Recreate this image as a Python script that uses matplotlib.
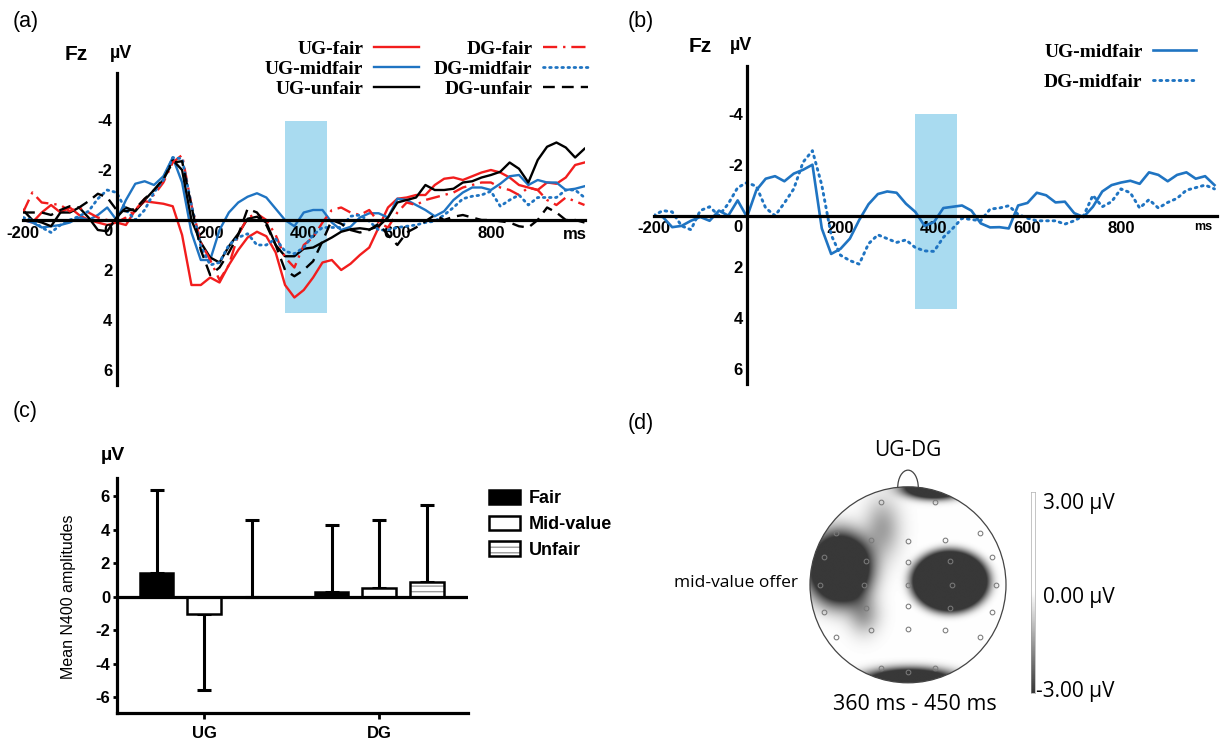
import numpy as np
import matplotlib
matplotlib.use("Agg")
import matplotlib.pyplot as plt
from matplotlib.colors import LinearSegmentedColormap
from matplotlib.patches import Ellipse, Patch, Arc

plt.rcParams["font.family"] = ["Liberation Sans", "DejaVu Sans"]

# ----------------------------
# Data
# ----------------------------
erp_times = np.arange(-200, 1001, 20)   # ms, one value every 20 ms

# panel (a): Fz waveforms (uV, negative up)
a_ug_fair = [0.0, 0.1, -0.3, -0.6, -0.3, -0.5, -0.2, 0.0, 0.1, 0.2,
             0.1, 0.2, -0.4, -0.75, -0.7, -0.65, -0.55, 0.6, 2.6, 2.6,
             2.3, 2.5, 1.8, 1.2, 0.7, 0.47, 0.65, 1.3, 2.6, 3.1,
             2.8, 2.3, 1.7, 1.6, 2.0, 1.75, 1.4, 1.1, 0.3, -0.5,
             -0.85, -0.9, -1.0, -1.0, -1.4, -1.65, -1.7, -1.6, -1.75, -1.9,
             -2.0, -1.9, -1.7, -1.4, -1.3, -1.2, -1.5, -1.45, -1.7, -2.2,
             -2.3]
a_ug_midfair = [0.0, 0.1, 0.3, 0.25, 0.2, 0.1, -0.1, 0.0, -0.2, -0.5,
                0.0, -0.8, -1.45, -1.55, -1.4, -1.75, -2.5, -1.5, 0.5, 1.6,
                1.6, 0.4, -0.3, -0.7, -0.93, -1.07, -0.9, -0.45, 0.0, 0.25,
                -0.3, -0.4, -0.4, 0.1, 0.4, 0.27, -0.1, -0.27, -0.27, -0.1,
                -0.85, -0.8, -0.6, -0.4, -0.15, -0.35, -0.8, -1.1, -1.3, -1.3,
                -1.2, -1.45, -1.75, -1.8, -1.4, -1.6, -1.5, -1.5, -1.2, -1.25,
                -1.35]
a_ug_unfair = [-0.4, 0.0, 0.1, 0.25, -0.3, -0.3, -0.5, -0.1, 0.4, 0.45,
               -0.1, -0.5, -0.35, -0.8, -1.2, -1.6, -2.4, -2.0, 0.0, 0.9,
               1.5, 1.7, 1.05, 0.55, -0.05, -0.13, 0.1, 1.0, 1.45, 1.45,
               1.15, 1.1, 0.9, 0.7, 0.47, 0.37, 0.33, 0.38, 0.25, -0.1,
               -0.7, -0.8, -0.9, -1.4, -1.2, -1.2, -1.25, -1.5, -1.55, -1.7,
               -1.8, -1.93, -2.3, -2.05, -1.5, -2.4, -2.93, -3.1, -2.9, -2.5,
               -2.85]
a_dg_fair = [-0.3, -1.1, -0.7, -0.65, -0.6, -0.35, -0.5, -0.3, -0.1, 0.0,
             0.1, -0.1, -0.4, -0.85, -1.0, -1.5, -2.3, -2.6, -0.6, 0.9,
             1.6, 2.4, 1.8, 0.6, -0.1, -0.25, 0.0, 0.6, 1.5, 1.9,
             1.0, 0.7, 0.1, -0.4, -0.5, -0.3, -0.2, -0.4, 0.1, 0.3,
             -0.3, -0.7, -0.6, -0.8, -0.9, -1.0, -1.1, -1.3, -1.4, -1.5,
             -1.5, -1.3, -1.2, -1.0, -1.3, -1.2, -0.8, -0.6, -0.9, -0.75,
             -0.6]
a_dg_midfair = [-0.1, 0.0, 0.3, 0.5, 0.2, 0.0, -0.15, -0.35, -0.85, -1.2,
                -1.1, -0.4, 0.0, -0.4, -1.1, -1.6, -2.5, -2.45, -0.6, 1.05,
                1.8, 1.7, 1.0, 0.7, 0.55, 1.0, 1.0, 0.75, 1.25, 1.35,
                1.1, 0.6, 0.3, 0.3, 0.3, -0.15, -0.2, 0.05, 0.4, 0.4,
                0.3, 0.25, 0.2, 0.1, 0.05, -0.2, -0.5, -0.85, -0.95, -1.0,
                -1.15, -0.55, -0.8, -1.0, -0.6, -0.9, -0.9, -0.9, -1.2, -1.2,
                -0.9]
a_dg_unfair = [-0.3, -0.3, -0.3, -0.2, -0.4, -0.55, -0.5, -0.75, -1.05, -0.9,
               -0.4, -0.35, -0.45, -0.85, -1.2, -1.65, -2.3, -2.35, -0.55, 1.2,
               2.2, 1.9, 1.3, 0.6, -0.45, -0.3, 0.2, 1.0, 2.0, 2.25,
               2.0, 1.65, 0.85, 0.0, 0.15, 0.4, 0.5, 0.4, 0.15, 0.6,
               1.0, 0.5, 0.3, 0.05, -0.2, 0.0, -0.13, -0.2, -0.1, 0.0,
               0.0, 0.05, 0.1, 0.25, 0.3, 0.0, -0.5, -0.3, 0.0, 0.0,
               0.1]

# panel (b): midfair offers only
b_ug_midfair = [0.0, 0.05, 0.45, 0.4, 0.2, 0.05, 0.2, -0.2, 0.0, -0.6,
                0.05, -1.0, -1.45, -1.55, -1.35, -1.65, -1.8, -2.0, 0.5, 1.5,
                1.3, 0.9, 0.17, -0.45, -0.85, -0.95, -0.9, -0.47, -0.15, 0.4,
                0.25, -0.3, -0.35, -0.4, -0.2, 0.3, 0.46, 0.45, 0.5, -0.4,
                -0.5, -0.9, -0.8, -0.52, -0.55, -0.1, 0.05, -0.35, -0.95, -1.2,
                -1.3, -1.37, -1.25, -1.7, -1.6, -1.35, -1.6, -1.7, -1.45, -1.55,
                -1.2]
b_dg_midfair = [0.0, -0.2, -0.15, 0.4, 0.55, -0.2, -0.35, 0.0, -0.47, -1.1,
                -1.3, -1.15, -0.3, 0.0, -0.5, -1.05, -2.1, -2.55, -1.2, 0.75,
                1.55, 1.76, 1.9, 1.1, 0.75, 0.9, 1.05, 0.95, 1.25, 1.38,
                1.4, 0.85, 0.5, 0.1, 0.15, 0.2, -0.26, -0.3, -0.39, -0.05,
                0.1, 0.2, 0.2, 0.2, 0.33, 0.2, 0.0, -0.8, -0.35, -0.55,
                -1.05, -0.9, -0.3, -0.63, -0.3, -0.52, -0.68, -1.0, -1.1, -1.2,
                -1.05]

n400_window = (360, 450)

# panel (c): mean N400 amplitudes with one-sided SD
games = ["UG", "DG"]
offer_types = ["Fair", "Mid-value", "Unfair"]
n400_mean = {"Fair": [1.4, 0.3], "Mid-value": [-1.02, 0.53], "Unfair": [0.0, 0.86]}
n400_sd = {"Fair": [5.0, 4.0], "Mid-value": [4.56, 4.05], "Unfair": [4.58, 4.6]}

# panel (d): UG-DG difference map, dark areas (uV) on a unit head
elec_x = [-0.28, 0.28,
          -0.73, -0.38, 0.0, 0.38, 0.73,
          -0.86, -0.43, 0.0, 0.43, 0.86,
          -0.9, -0.45, 0.0, 0.45, 0.9,
          -0.86, -0.43, 0.0, 0.43, 0.86,
          -0.73, -0.38, 0.0, 0.38, 0.73,
          -0.28, 0.0, 0.28]
elec_y = [0.85, 0.85,
          0.53, 0.46, 0.45, 0.46, 0.53,
          0.28, 0.24, 0.23, 0.24, 0.28,
          0.0, 0.0, 0.0, 0.0, 0.0,
          -0.28, -0.24, -0.22, -0.24, -0.28,
          -0.53, -0.46, -0.45, -0.46, -0.53,
          -0.85, -0.89, -0.85]
blob_x = [-0.70, 0.43, 0.27, 0.02, -0.26, -0.45]
blob_y = [0.17, 0.04, 1.0, -1.0, 0.58, -0.30]
blob_wx = [0.33, 0.40, 0.33, 0.50, 0.18, 0.16]
blob_wy = [0.37, 0.32, 0.12, 0.15, 0.30, 0.20]
blob_amp = [-6.0, -6.0, -6.0, -6.0, -1.4, -1.4]
blob_pow = [3, 6, 3, 3, 2, 2]

# ----------------------------
# Layout helpers (pixel boxes)
# ----------------------------
W, H = 1228, 742


def px_box(left, top, right, bottom):
    return [left / W, 1 - bottom / H, (right - left) / W, (bottom - top) / H]


def fxy(x, y):
    return x / W, 1 - y / H


RED = "#f21d1d"
BLUE = "#1f74c2"
SHADE = "#a9dbf0"
TICKFONT = dict(fontsize=12, fontweight="bold", family="Liberation Sans")
TOPOFONT = ["Open Sans", "DejaVu Sans"]


def erp_axes(fig, rect, xlim, ylim):
    ax = fig.add_axes(rect)
    ax.set_xlim(*xlim)
    ax.set_ylim(*ylim)
    ax.patch.set_alpha(0)
    for s in ("top", "right"):
        ax.spines[s].set_visible(False)
    for s in ("left", "bottom"):
        ax.spines[s].set_position(("data", 0))
        ax.spines[s].set_linewidth(2.3)
        ax.spines[s].set_zorder(3)
    ax.set_xticks([-200, 200, 400, 600, 800])
    ax.set_xticklabels(["-200", "200", "400", "600", "800"], **TICKFONT)
    ax.set_yticks([-4, -2, 2, 4, 6])
    ax.set_yticklabels(["-4", "-2", "2", "4", "6"], **TICKFONT)
    ax.tick_params(axis="x", length=0, pad=4)
    ax.tick_params(axis="y", length=0, pad=3)
    ax.annotate("0", xy=(0, 0), xytext=(-3, -3), textcoords="offset points",
                ha="right", va="top", **TICKFONT)
    return ax


fig = plt.figure(figsize=(W / 100, H / 100), dpi=100)

# ---- Panel (a) ----
ax_a = erp_axes(fig, px_box(23, 73, 584.5, 385), (-200, 1000), (6.6, -5.88))
ax_a.fill_between(n400_window, -3.95, 3.7, color=SHADE, lw=0, zorder=0)
lw = 1.7
ax_a.plot(erp_times, a_ug_fair, color=RED, lw=lw, label="UG-fair")
ax_a.plot(erp_times, a_ug_midfair, color=BLUE, lw=lw, label="UG-midfair")
ax_a.plot(erp_times, a_ug_unfair, color="black", lw=lw, label="UG-unfair")
ax_a.plot(erp_times, a_dg_fair, color=RED, lw=lw, ls=(0, (6, 2.5, 1, 2.5)), label="DG-fair")
ax_a.plot(erp_times, a_dg_midfair, color=BLUE, lw=lw + 0.3, ls=(0, (0.6, 1.6)),
          dash_capstyle="round", label="DG-midfair")
ax_a.plot(erp_times, a_dg_unfair, color="black", lw=lw, ls=(0, (5, 3)), label="DG-unfair")
ax_a.annotate("ms", xy=(980, 0), xytext=(0, -5), textcoords="offset points",
              ha="center", va="top", **TICKFONT)
ax_a.legend(ncol=2, markerfirst=False, frameon=False, loc="upper right",
            bbox_to_anchor=fxy(588, 40), bbox_transform=fig.transFigure,
            prop=dict(family="Liberation Serif", weight="bold", size=14),
            handlelength=2.3, handletextpad=0.55, columnspacing=0.8,
            labelspacing=0.13, borderpad=0, borderaxespad=0)
fig.text(*fxy(76, 55), "Fz", fontsize=15, fontweight="bold", ha="center", va="center")
fig.text(*fxy(121, 54), "µV", fontsize=13, fontweight="bold", ha="center", va="center")

# ---- Panel (b) ----
ax_b = erp_axes(fig, px_box(653.5, 66, 1216.8, 384), (-200, 1005), (6.6, -5.87))
ax_b.fill_between(n400_window, -4.0, 3.66, color=SHADE, lw=0, zorder=0)
ax_b.plot(erp_times, b_ug_midfair, color=BLUE, lw=lw + 0.2, label="UG-midfair")
ax_b.plot(erp_times, b_dg_midfair, color=BLUE, lw=lw + 0.4, ls=(0, (0.6, 1.6)),
          dash_capstyle="round", label="DG-midfair")
ax_b.annotate("ms", xy=(975, 0), xytext=(0, -4), textcoords="offset points",
              ha="center", va="top", fontsize=9, fontweight="bold")
ax_b.legend(markerfirst=False, frameon=False, loc="upper right",
            bbox_to_anchor=fxy(1196, 43), bbox_transform=fig.transFigure,
            prop=dict(family="Liberation Serif", weight="bold", size=14),
            handlelength=2.2, handletextpad=0.55, labelspacing=0.65,
            borderpad=0, borderaxespad=0)
fig.text(*fxy(700, 47), "Fz", fontsize=15, fontweight="bold", ha="center", va="center")
fig.text(*fxy(741, 46), "µV", fontsize=13, fontweight="bold", ha="center", va="center")

# ---- Panel (c) ----
ax_c = fig.add_axes(px_box(117, 478, 468, 713))
ax_c.set_xlim(-0.497, 1.509)
ax_c.set_ylim(-6.96, 7.1)
for s in ("top", "right"):
    ax_c.spines[s].set_visible(False)
for s in ("left", "bottom"):
    ax_c.spines[s].set_linewidth(2.3)
ax_c.axhline(0, color="black", lw=2.3, zorder=4)
xpos = np.arange(len(games))
offsets = [-0.27, 0.0, 0.275]
bw = 0.19
for off, kind in zip(offsets, offer_types):
    means = np.array(n400_mean[kind])
    sds = np.array(n400_sd[kind])
    upper = np.where(means >= 0, sds, 0)
    lower = np.where(means < 0, sds, 0)
    ax_c.errorbar(xpos + off, means, yerr=[lower, upper], fmt="none", ecolor="black",
                  elinewidth=2.2, capsize=5, capthick=2.2, zorder=1)
    if kind == "Fair":
        ax_c.bar(xpos + off, means, bw, color="black", edgecolor="black", lw=1.8, zorder=2)
    elif kind == "Mid-value":
        ax_c.bar(xpos + off, means, bw, color="white", edgecolor="black", lw=1.8, zorder=2)
    else:
        ax_c.bar(xpos + off, means, bw, color="white", edgecolor="#9a9a9a", hatch="---",
                 lw=0, zorder=2)
        ax_c.bar(xpos + off, means, bw, fill=False, edgecolor="black", lw=1.8, zorder=3)
ax_c.set_xticks(xpos)
ax_c.set_xticklabels(games, fontsize=12, fontweight="bold")
ax_c.set_yticks([-6, -4, -2, 0, 2, 4, 6])
ax_c.set_yticklabels(["-6", "-4", "-2", "0", "2", "4", "6"], fontsize=12, fontweight="bold")
ax_c.tick_params(axis="x", length=4, width=2, pad=5)
ax_c.tick_params(axis="y", length=3, width=2, pad=2)
fig.text(*fxy(69, 597), "Mean N400 amplitudes", rotation=90, fontsize=11.5,
         ha="center", va="center")
fig.text(*fxy(113, 455), "µV", fontsize=14, fontweight="bold", ha="center", va="center")
leg_handles = [Patch(facecolor="black", edgecolor="black", lw=1.8),
               Patch(facecolor="white", edgecolor="black", lw=1.8),
               (Patch(facecolor="white", edgecolor="#9a9a9a", hatch="---", lw=0),
                Patch(facecolor="none", edgecolor="black", lw=1.8))]
ax_c.legend(leg_handles, offer_types, frameon=False, loc="upper left",
            bbox_to_anchor=fxy(489, 490), bbox_transform=fig.transFigure,
            prop=dict(size=13, weight="bold"), handlelength=1.7, handleheight=0.85,
            handletextpad=0.5, labelspacing=0.45, borderpad=0, borderaxespad=0)

# ---- Panel (d) ----
cx_px, cy_px, rx_px, ry_px = 908, 585, 98, 102
ax_d = fig.add_axes(px_box(cx_px - 1.2 * rx_px, cy_px - 1.3 * ry_px,
                           cx_px + 1.2 * rx_px, cy_px + 1.2 * ry_px))
ax_d.set_xlim(-1.2, 1.2)
ax_d.set_ylim(-1.2, 1.3)
ax_d.axis("off")

topo_cmap = LinearSegmentedColormap.from_list(
    "topo", [(0.0, "#383838"), (0.5, "#ffffff"), (1.0, "#ffffff")])
gx = np.linspace(-1, 1, 400)
GX, GY = np.meshgrid(gx, gx)
field = np.zeros_like(GX)
for bx, by, wx, wy, amp, pw in zip(blob_x, blob_y, blob_wx, blob_wy, blob_amp, blob_pow):
    r = np.sqrt(((GX - bx) / wx) ** 2 + ((GY - by) / wy) ** 2)
    field += amp * np.exp(-r ** pw)
head = Ellipse((0, 0), 2, 2, facecolor="none", edgecolor="#444444", lw=0.9, zorder=4)
ax_d.add_patch(head)
im = ax_d.imshow(field, extent=(-1, 1, -1, 1), origin="lower", cmap=topo_cmap,
                 vmin=-3, vmax=3, interpolation="bilinear", zorder=1)
im.set_clip_path(head)
ax_d.add_patch(Arc((0, 0.99), 0.21, 0.36, theta1=0, theta2=180, color="#444444", lw=0.9))
ax_d.plot(elec_x, elec_y, "o", ms=3.4, mfc="none", mec="#7a7a7a", mew=0.75, zorder=5)

fig.text(*fxy(908, 451), "UG-DG", fontsize=15, family=TOPOFONT, ha="center", va="center")
fig.text(*fxy(915, 704), "360 ms - 450 ms", fontsize=15.5, family=TOPOFONT,
         ha="center", va="center")
fig.text(*fxy(798, 583), "mid-value offer", fontsize=12.5, family=TOPOFONT,
         ha="right", va="center")

ax_cb = fig.add_axes(px_box(1031, 492, 1035, 693))
ax_cb.imshow(np.linspace(-3, 3, 100)[:, None], aspect="auto", origin="lower",
             cmap=topo_cmap, vmin=-3, vmax=3, extent=(0, 1, -3, 3))
ax_cb.set_xticks([])
ax_cb.set_yticks([])
for s in ax_cb.spines.values():
    s.set_linewidth(0.4)
    s.set_color("#9a9a9a")
fig.text(*fxy(1043, 504), "3.00 µV", fontsize=15, family=TOPOFONT, ha="left", va="center")
fig.text(*fxy(1043, 598), "0.00 µV", fontsize=15, family=TOPOFONT, ha="left", va="center")
fig.text(*fxy(1036, 692), "-3.00 µV", fontsize=15, family=TOPOFONT, ha="left", va="center")

# ---- panel letters ----
for x, y, s in [(13, 22, "(a)"), (628, 22, "(b)"), (13, 411, "(c)"), (628, 423, "(d)")]:
    fig.text(*fxy(x, y), s, fontsize=15.5, ha="left", va="center")

fig.savefig("out.png", dpi=100)
